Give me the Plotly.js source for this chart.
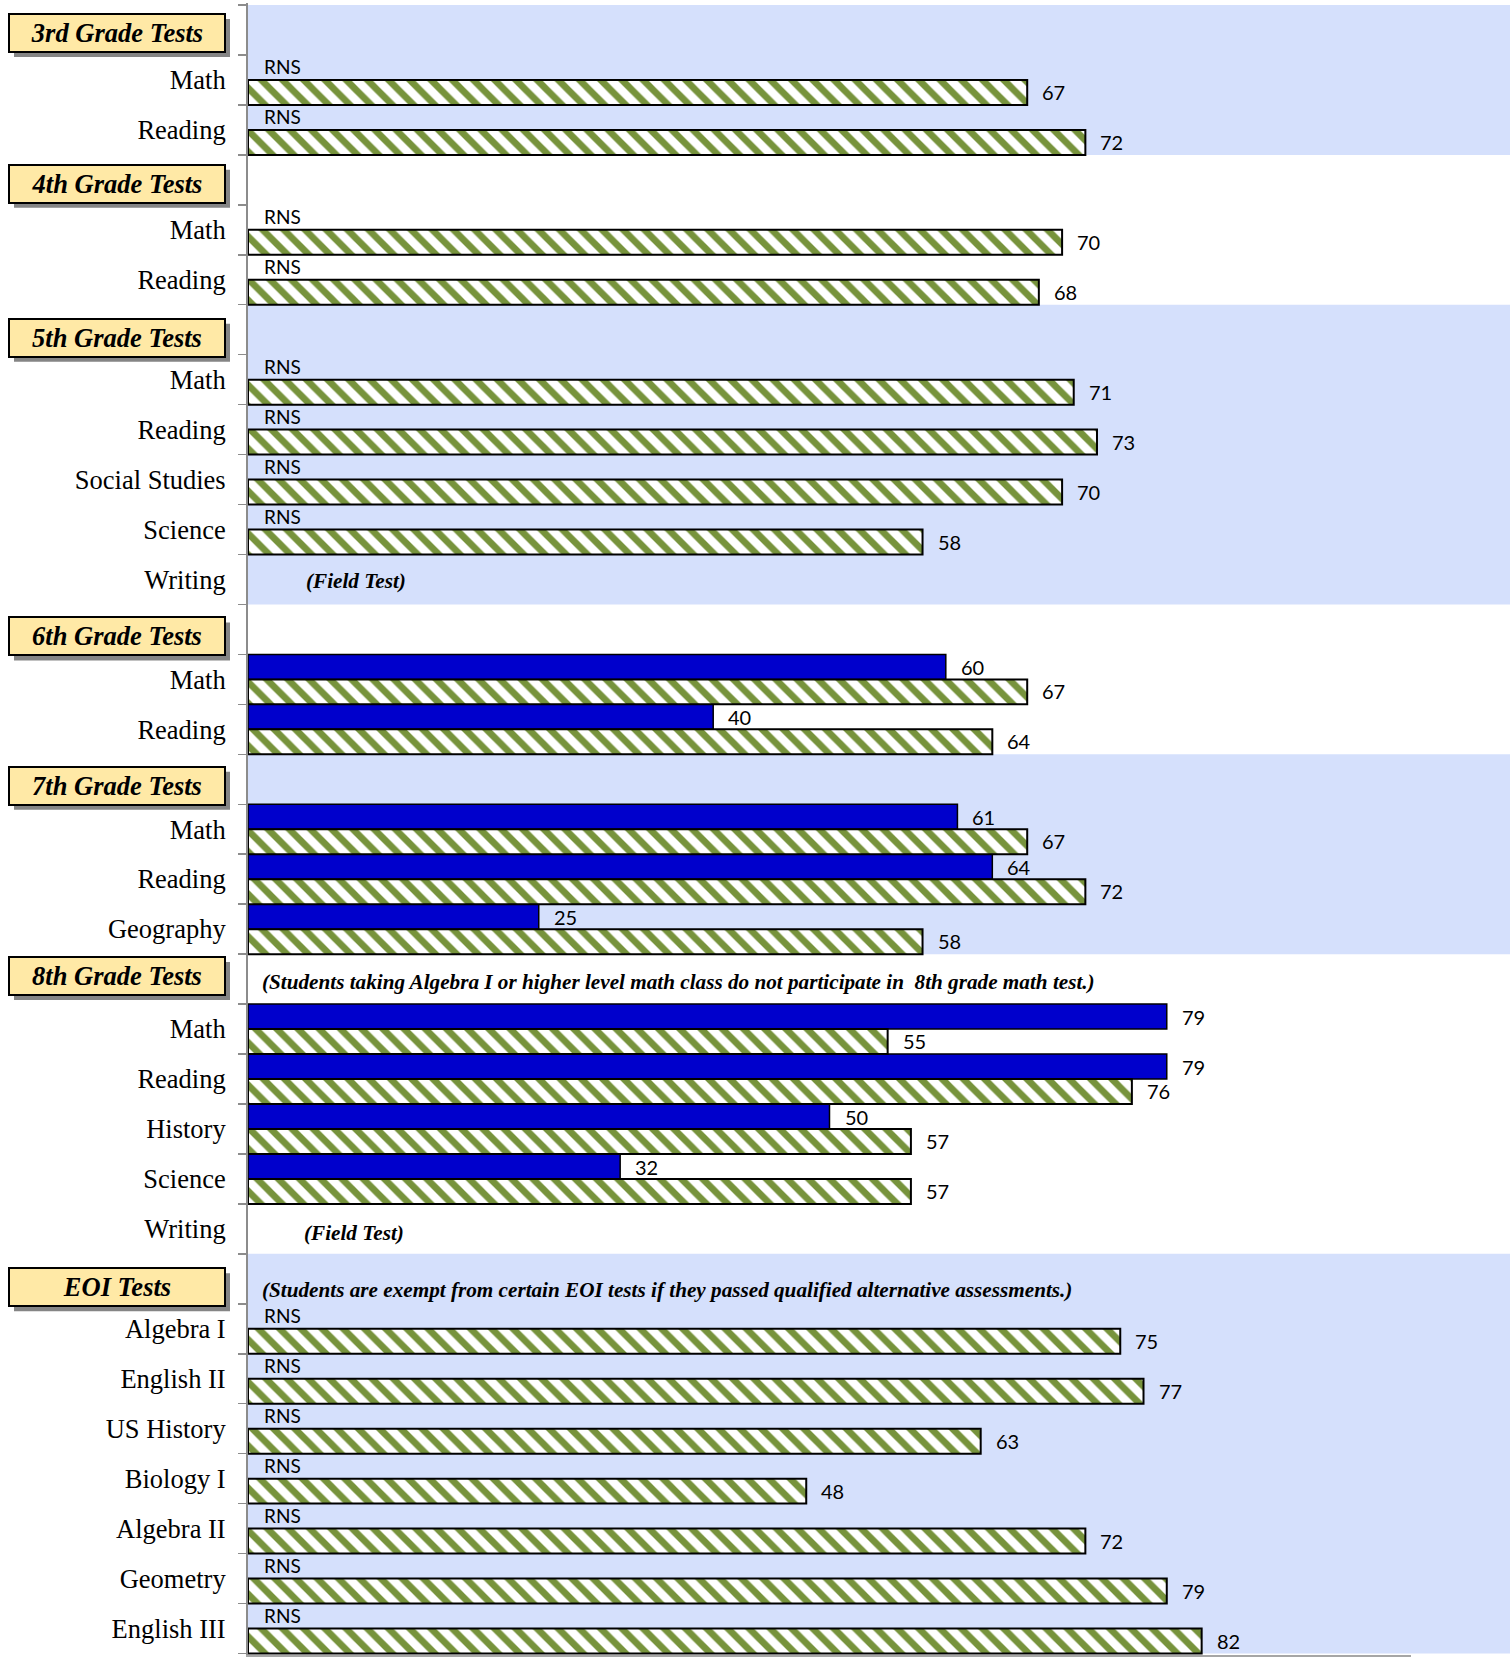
<!DOCTYPE html>
<html><head><meta charset="utf-8">
<script src="https://cdn.plot.ly/plotly-3.0.1.min.js"></script>
<style>body{margin:0;background:#fff}#chart{width:1510px;height:1658px}</style>
</head><body><div id="chart"></div>
<script>
// ---- data ----
const groupNames = ['3rd Grade Tests','4th Grade Tests','5th Grade Tests','6th Grade Tests','7th Grade Tests','8th Grade Tests','EOI Tests'];
const groupNotes = ['','','','','','(Students taking Algebra I or higher level math class do not participate in  8th grade math test.)','(Students are exempt from certain EOI tests if they passed qualified alternative assessments.)'];
const rowGroup = [0,0, 1,1, 2,2,2,2,2, 3,3, 4,4,4, 5,5,5,5,5, 6,6,6,6,6,6,6];
const rowLabels = ['Math','Reading','Math','Reading','Math','Reading','Social Studies','Science','Writing','Math','Reading','Math','Reading','Geography','Math','Reading','History','Science','Writing','Algebra I','English II','US History','Biology I','Algebra II','Geometry','English III'];
const schoolValues = [null,null,null,null,null,null,null,null,null,60,40,61,64,25,79,79,50,32,null,null,null,null,null,null,null,null];
const stateValues = [67,72,70,68,71,73,70,58,null,67,64,67,72,58,55,76,57,57,null,75,77,63,48,72,79,82];
const rowFlags = ['RNS','RNS','RNS','RNS','RNS','RNS','RNS','RNS','(Field Test)','','','','','','','','','','(Field Test)','RNS','RNS','RNS','RNS','RNS','RNS','RNS'];

// ---- build category list ----
const cats = [], tickText = [], sVals = [], gVals = [];
const groupStart = [], groupEnd = [];
const rowId = [];
groupNames.forEach((g, gi) => {
  groupStart[gi] = cats.length;
  cats.push('H' + gi); tickText.push(''); sVals.push(null); gVals.push(null);
  rowGroup.forEach((rg, ri) => {
    if (rg !== gi) return;
    rowId[ri] = 'R' + ri;
    cats.push('R' + ri); tickText.push(rowLabels[ri]);
    sVals.push(schoolValues[ri]); gVals.push(stateValues[ri]);
  });
  groupEnd[gi] = cats.length - 1;
});

const traces = [
  {type:'bar', orientation:'h', y:cats, x:sVals, name:'School',
   marker:{color:'#0000CC', line:{color:'#000', width:1.5}}, hoverinfo:'skip'},
  {type:'bar', orientation:'h', y:cats, x:gVals, name:'State',
   marker:{color:'#ffffff', line:{color:'#000', width:2},
     pattern:{shape:'\\', fgcolor:'#77933C', bgcolor:'#ffffff', size:15, solidity:0.45, fillmode:'replace'}},
   hoverinfo:'skip'}
];

// style: per-group vertical nudges of header boxes (px, up positive)
const headerShift = [-3, -4, -8, -7, -6.5, 3, -8.5];
const boxW = 216, boxH = 38, boxCx = -131, shadowOff = 5;

const shapes = [];
groupNames.forEach((g, gi) => {
  if (gi % 2 === 0) {
    shapes.push({type:'rect', xref:'paper', yref:'y', x0:0, x1:1.09,
      y0:groupStart[gi]-0.5, y1:groupEnd[gi]+0.5, fillcolor:'#D5E0FC', line:{width:0}, layer:'below'});
  }
  // header shadow
  shapes.push({type:'rect', xref:'paper', yref:'y', xsizemode:'pixel', ysizemode:'pixel',
    xanchor:0, yanchor:groupStart[gi],
    x0:boxCx - boxW/2 + shadowOff, x1:boxCx + boxW/2 + shadowOff,
    y0:headerShift[gi] - boxH/2 - shadowOff, y1:headerShift[gi] + boxH/2 - shadowOff,
    fillcolor:'#858585', line:{width:0}, layer:'below'});
});

const annotations = [];
const numFont = {family:'Lato, "Open Sans", sans-serif', size:20, color:'#000'};
const noteFont = {family:'Liberation Serif, serif', size:21.2, color:'#000', weight:'bold', style:'italic'};
groupNames.forEach((g, gi) => {
  annotations.push({xref:'paper', yref:'y', x:0, y:'H'+gi, xanchor:'center', yanchor:'middle', showarrow:false,
    width:boxW - 6, height:boxH - 6, borderpad:2, borderwidth:2, text:g, xshift:boxCx, yshift:headerShift[gi],
    font:{family:'Liberation Serif, serif', size:26.5, color:'#000', weight:'bold', style:'italic'},
    bgcolor:'#FFE9A6', bordercolor:'#000'});
  if (groupNotes[gi]) {
    annotations.push({xref:'paper', yref:'y', x:0, y:'H'+gi, xanchor:'left', yanchor:'middle', showarrow:false,
      xshift:12, yshift: gi === 6 ? -11 : -3, text:groupNotes[gi], font:noteFont});
  }
});
rowLabels.forEach((lab, ri) => {
  const id = rowId[ri];
  if (schoolValues[ri] !== null) {
    annotations.push({x:schoolValues[ri], y:id, xref:'x', yref:'y', xanchor:'left', yanchor:'middle',
      showarrow:false, xshift:13, yshift:12, text:String(schoolValues[ri]), font:numFont});
  }
  if (stateValues[ri] !== null) {
    annotations.push({x:stateValues[ri], y:id, xref:'x', yref:'y', xanchor:'left', yanchor:'middle',
      showarrow:false, xshift:13, yshift:-12, text:String(stateValues[ri]), font:numFont});
  }
  if (rowFlags[ri] === 'RNS') {
    annotations.push({x:0, y:id, xref:'x', yref:'y', xanchor:'left', yanchor:'middle',
      showarrow:false, xshift:14, yshift:13, text:'RNS', font:{family:numFont.family, size:19, color:'#000'}});
  } else if (rowFlags[ri]) {
    annotations.push({x:0, y:id, xref:'x', yref:'y', xanchor:'left', yanchor:'middle',
      showarrow:false, xshift: rowGroup[ri] === 2 ? 56 : 54, yshift: rowGroup[ri] === 2 ? -2 : -4,
      text:rowFlags[ri], font:noteFont});
  }
});

const layout = {
  width:1510, height:1658,
  margin:{l:248, r:99, t:3, b:3},
  paper_bgcolor:'#fff', plot_bgcolor:'rgba(0,0,0,0)',
  barmode:'group', bargap:0, bargroupgap:0,
  showlegend:false,
  xaxis:{range:[0,100], showgrid:false, zeroline:false, showticklabels:false, ticks:'',
    showline:true, linecolor:'#A6A6A6', linewidth:2, fixedrange:true},
  yaxis:{type:'category', categoryorder:'array', categoryarray:cats, autorange:'reversed',
    tickvals:cats, ticktext:tickText, tickson:'boundaries', ticks:'outside', ticklen:8,
    tickcolor:'#8c8c8c', tickwidth:1.5, showline:true, linecolor:'#8c8c8c', linewidth:2,
    showgrid:false, zeroline:false, ticklabelstandoff:15,
    tickfont:{family:'Liberation Serif, serif', size:26.5, color:'#000'}},
  shapes:shapes, annotations:annotations
};
Plotly.newPlot('chart', traces, layout, {staticPlot:true});
</script>
</body></html>
